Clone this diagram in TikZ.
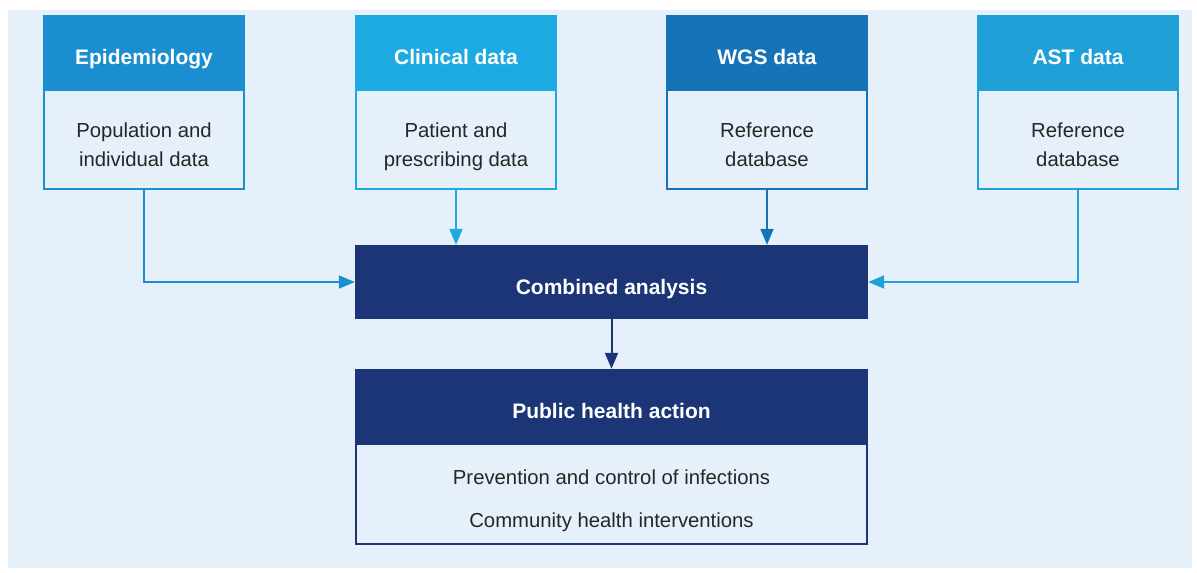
\documentclass[tikz,border=0pt]{standalone}
\usepackage{fontspec}
\setmainfont{Liberation Sans}
\usetikzlibrary{arrows.meta,positioning}
\definecolor{bg}{HTML}{E6F0FA}\definecolor{ink}{HTML}{262626}
\definecolor{epi}{HTML}{1A8ECE}\definecolor{clin}{HTML}{1DAAE2}
\definecolor{wgs}{HTML}{1573B8}\definecolor{ast}{HTML}{20A0D9}
\definecolor{navy}{HTML}{1B3577}
\tikzset{hd/.style={fill=#1,text=white,font=\bfseries\fontsize{21}{25}\selectfont,minimum width=202pt,minimum height=74pt,inner sep=0pt,text height=25pt,text depth=0pt},
bd/.style={draw=#1,fill=bg,line width=2pt,text=ink,align=center,font=\fontsize{20.3}{29}\selectfont,minimum width=200pt,minimum height=99pt,inner sep=0pt,text height=58pt,text depth=5pt},
wide/.style={minimum width=513pt},
arr/.style={draw=#1,line width=2pt,-{Triangle[length=16pt,width=13pt]}}}
\begin{document}
\begin{tikzpicture}[x=1pt,y=-1pt]
\useasboundingbox(0,0)rectangle(1197,573);
\fill[white](0,0)rectangle(1197,573);\fill[bg](8,10)rectangle(1192,568);
% four sources
\node[hd=epi](E)at(144,52){Epidemiology};\node[bd=epi](e)at(144,139.5){Population and\\individual data};
\node[hd=clin](L)at(456,52){Clinical data};\node[bd=clin](l)at(456,139.5){Patient and\\prescribing data};
\node[hd=wgs](W)at(767,52){WGS data};\node[bd=wgs](w)at(767,139.5){Reference\\database};
\node[hd=ast](A)at(1078,52){AST data};\node[bd=ast](a)at(1078,139.5){Reference\\database};
% analysis and action
\node[hd=navy,wide](C)at(611.5,282){Combined analysis};
\node[hd=navy,wide](P)at(611.5,406){Public health action};
\node[bd=navy,minimum width=511pt,minimum height=100pt,text height=71pt](p)at(611.5,494){Prevention and control of infections\\[14pt]Community health interventions};
\draw[arr=epi](e.south)|-(C.west);\draw[arr=ast](a.south)|-(C.east);
\foreach\s/\c in{l/clin,w/wgs}\draw[arr=\c](\s.south)--(\s.south|-C.north);
\draw[arr=navy](C)--(P);
\end{tikzpicture}
\end{document}
